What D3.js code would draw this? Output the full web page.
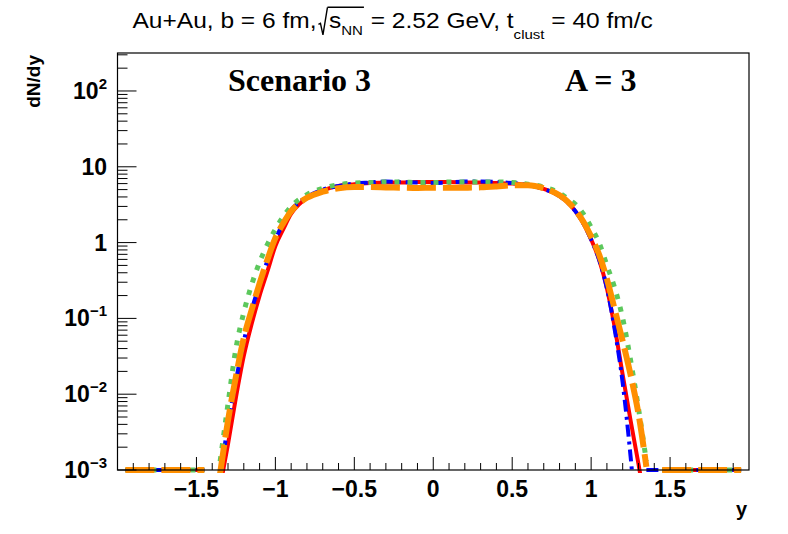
<!DOCTYPE html>
<html><head><meta charset="utf-8">
<script src="https://cdn.jsdelivr.net/npm/d3@7"></script>
<style>body{margin:0;background:#fff}svg{display:block}</style>
</head><body>
<svg id="c" width="788" height="534"></svg>
<script>
// ---- data ----
const rapidity = [-1.95,-1.85,-1.75,-1.65,-1.55,-1.45,-1.35,-1.30,-1.25,-1.20,-1.15,-1.10,-1.05,-1.00,-0.95,-0.90,-0.85,-0.80,-0.70,-0.60,-0.50,-0.40,-0.30,-0.20,-0.10,0.00,0.10,0.20,0.30,0.40,0.50,0.60,0.70,0.80,0.85,0.90,0.95,1.00,1.05,1.10,1.15,1.20,1.25,1.30,1.35,1.45,1.55,1.65,1.75,1.85,1.95];
const redValues = [0,0,0,0,0,0,0.0006,0.0022,0.009,0.032,0.085,0.2,0.42,0.9,1.5,2.4,3.2,3.9,4.9,5.6,5.9,6.1,6.2,6.2,6.3,6.3,6.3,6.2,6.2,6.1,6.0,5.7,5.1,4.1,3.4,2.6,1.8,1.1,0.6,0.25,0.075,0.018,0.0045,0.0012,0.0003,0,0,0,0,0,0];
const blueValues = [0,0,0,0,0,0,0.0008,0.004,0.015,0.05,0.13,0.28,0.58,1.1,1.8,2.7,3.4,4.0,5.0,5.6,6.0,6.2,6.4,6.3,6.2,6.1,6.2,6.4,6.4,6.3,6.1,5.8,5.1,4.1,3.4,2.6,1.8,1.1,0.6,0.25,0.07,0.014,0.0015,0.0001,0,0,0,0,0,0,0];
const greenValues = [0,0,0,0,0,0,0.0013,0.0075,0.04,0.12,0.28,0.55,0.95,1.5,2.2,3.0,3.7,4.3,5.2,5.8,6.1,6.2,6.3,6.3,6.2,6.2,6.3,6.3,6.3,6.3,6.2,5.9,5.4,4.5,3.8,3.2,2.4,1.6,1.0,0.5,0.25,0.1,0.028,0.0065,0.0013,0,0,0,0,0,0];
const orangeValues = [0,0,0,0,0,0,0.0009,0.0045,0.017,0.055,0.13,0.29,0.6,1.15,1.8,2.6,3.3,3.9,4.7,5.2,5.4,5.4,5.35,5.3,5.25,5.3,5.3,5.3,5.35,5.5,5.7,5.7,5.2,4.2,3.5,2.7,1.9,1.2,0.7,0.33,0.13,0.05,0.018,0.0055,0.0011,0,0,0,0,0,0];
const xTickLabels = ["\u22121.5","\u22121","\u22120.5","0","0.5","1","1.5"];
const xTickValues = [-1.5,-1,-0.5,0,0.5,1,1.5];
const yTickValues = [1e-3,1e-2,1e-1,1,10,100];
const yTickBase = ["10","10","10","1","10","10"];
const yTickExp = ["\u22123","\u22122","\u22121","","","2"];

const series = [
  {vals: redValues, color:"#ff0000", width:4, dash:null},
  {vals: blueValues, color:"#0000ff", width:4, dash:"12,5,3,5"},
  {vals: greenValues, color:"#5cc85c", width:5, dash:"5,8"},
  {vals: orangeValues, color:"#ff8f00", width:6, dash:"29,7"}
];

// ---- layout ----
const L=117.5, R=749, T=53, B=470;
const svg = d3.select("#c");
const x = d3.scaleLinear().domain([-2,2]).range([L,R]);
const y = d3.scaleLog().domain([1e-3,317]).range([B,T]);
const SANS = "Liberation Sans, Arial, Helvetica, sans-serif";

svg.append("defs").append("clipPath").attr("id","clip")
  .append("rect").attr("x",L).attr("y",T).attr("width",R-L).attr("height",B-T+3);

const plot = svg.append("g");
const line = d3.line().x(d=>x(d[0])).y(d=>y(d[1])).curve(d3.curveMonotoneX);

series.forEach(s=>{
  const pts = rapidity.map((r,i)=>[r,s.vals[i]]);
  const nz = pts.filter(p=>p[1]>0);
  const p = plot.append("path").attr("d",line(nz)).attr("fill","none")
    .attr("stroke",s.color).attr("stroke-width",s.width).attr("clip-path","url(#clip)");
  if(s.dash) p.attr("stroke-dasharray",s.dash);
  // empty bins drawn at the axis minimum
  let run=[]; const runs=[];
  pts.forEach(pt=>{ if(pt[1]===0){run.push(pt);} else { if(run.length) runs.push(run); run=[]; } });
  if(run.length) runs.push(run);
  runs.forEach(rn=>{
    const q = plot.append("path")
      .attr("d", d3.line().x(d=>x(d[0])).y(()=>y(1e-3))(rn))
      .attr("fill","none").attr("stroke",s.color).attr("stroke-width",s.width);
    if(s.dash) q.attr("stroke-dasharray",s.dash);
  });
});

// frame
svg.append("rect").attr("x",L).attr("y",T).attr("width",R-L).attr("height",B-T)
  .attr("fill","none").attr("stroke","#000").attr("stroke-width",1.2);

// x ticks
const ax = svg.append("g").attr("stroke","#000").attr("stroke-width",1);
for(let i=-19;i<=19;i++){
  const v=i/10; const major = (i%5===0);
  ax.append("line").attr("x1",x(v)).attr("x2",x(v)).attr("y1",B).attr("y2",B-(major?13:7));
}
xTickValues.forEach((v,i)=>{
  svg.append("text").attr("x",x(v)).attr("y",497).attr("text-anchor","middle")
    .attr("font-family",SANS).attr("font-weight","bold")
    .attr("font-size",23).text(xTickLabels[i]);
});
// y ticks
for(let k=-3;k<=2;k++){
  for(let m=1;m<=9;m++){
    const v=m*Math.pow(10,k);
    if(v>317) continue;
    ax.append("line").attr("x1",L).attr("x2",L+(m===1?19:10)).attr("y1",y(v)).attr("y2",y(v));
  }
}
yTickValues.forEach((v,i)=>{
  const t = svg.append("text").attr("y",y(v)+8).attr("text-anchor","end").attr("x",107)
    .attr("font-family",SANS).attr("font-weight","bold").attr("font-size",23);
  t.append("tspan").text(yTickBase[i]);
  if(yTickExp[i]) t.append("tspan").attr("font-size",15).attr("dy",-10).text(yTickExp[i]);
});

// axis titles
svg.append("text").attr("x",747).attr("y",516).attr("text-anchor","end")
  .attr("font-family",SANS).attr("font-weight","bold").attr("font-size",20).text("y");
svg.append("text").attr("transform","translate(40,55) rotate(-90)").attr("text-anchor","end")
  .attr("font-family",SANS).attr("font-weight","bold").attr("font-size",19).text("dN/dy");

// in-plot labels
svg.append("text").attr("x",228).attr("y",91)
  .attr("font-family","Liberation Serif, Times New Roman, serif").attr("font-weight","bold").attr("font-size",32).text("Scenario 3");
svg.append("text").attr("x",565).attr("y",91)
  .attr("font-family","Liberation Serif, Times New Roman, serif").attr("font-weight","bold").attr("font-size",32).text("A = 3");

// title
const tg = svg.append("g").attr("font-family",SANS);
const SX = 1.115;
let cx = 132.5; const base = 28.3;
function piece(txt, size, dy){
  const el = tg.append("text").attr("x",0).attr("y",0).attr("font-size",size)
    .style("white-space","pre").attr("xml:space","preserve")
    .attr("transform",`translate(${cx},${base+dy}) scale(${SX},1)`).text(txt);
  const w = el.node().getComputedTextLength()*SX;
  const x0 = cx; cx += w; return [x0,cx];
}
piece("Au+Au, b = 6 fm,",22,0);
// radical sign
const rx = cx + 2;
tg.append("path")
  .attr("d",`M${rx},${base-4} L${rx+2},${base-5} L${rx+4.5},${base+6.5} L${rx+9},${base-21} L${rx+9},${base-21}`)
  .attr("fill","none").attr("stroke","#000").attr("stroke-width",1.4).attr("stroke-linejoin","miter");
cx = rx + 10.5;
piece("s",22,0);
const nn = piece("NN",13.5,6.5);
tg.append("line").attr("x1",rx+9).attr("x2",nn[1]+1).attr("y1",base-21).attr("y2",base-21)
  .attr("stroke","#000").attr("stroke-width",1.4);
cx += 1;
piece(" = 2.52 GeV, t",22,0);
piece("clust",13.5,11);
piece(" = 40 fm/c",22,0);
</script>
</body></html>
